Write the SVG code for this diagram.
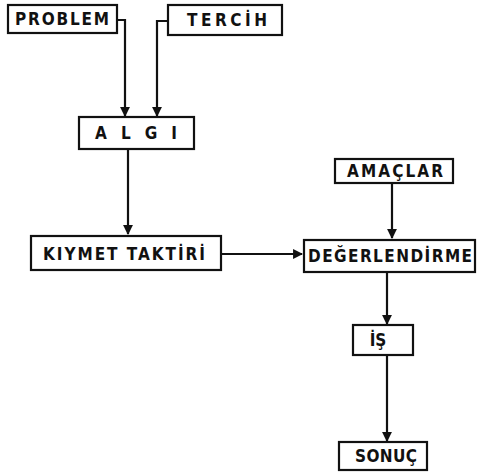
<svg xmlns="http://www.w3.org/2000/svg" width="481" height="474" viewBox="0 0 481 474">
<style>
.box{fill:#fff;stroke:#111;stroke-width:2.2}
.t{font-family:"DejaVu Sans Condensed","Liberation Sans",sans-serif;font-weight:bold;font-size:17px;fill:#111;dominant-baseline:central}
.c{fill:none;stroke:#111;stroke-width:2.2}
</style>
<defs>
<marker id="ah" viewBox="0 0 10 10" refX="9" refY="5" markerWidth="4.5" markerHeight="4.5" orient="auto" markerUnits="strokeWidth">
<path d="M0,0 L10,5 L0,10 Z" fill="#111"/>
</marker>
</defs>
<rect width="481" height="474" fill="#fff"/>
<g id="connectors">
<path class="c" d="M117,20 H125 V116" marker-end="url(#ah)"/>
<path class="c" d="M168,21 H157 V116" marker-end="url(#ah)"/>
<path class="c" d="M128,149 V234" marker-end="url(#ah)"/>
<path class="c" d="M221,254 H302" marker-end="url(#ah)"/>
<path class="c" d="M392,183 V238" marker-end="url(#ah)"/>
<path class="c" d="M387,272 V324" marker-end="url(#ah)"/>
<path class="c" d="M387,355 V441" marker-end="url(#ah)"/>
</g>
<g id="problem">
<rect class="box" x="8" y="5" width="109" height="28"/>
<text class="t" x="15" y="19" textLength="94" lengthAdjust="spacing">PROBLEM</text>
</g>
<g id="tercih">
<rect class="box" x="168" y="5" width="114" height="30"/>
<text class="t" x="187" y="20" textLength="80" lengthAdjust="spacing">TERCİH</text>
</g>
<g id="algi">
<rect class="box" x="79" y="117" width="115" height="32"/>
<text class="t" x="95" y="133" textLength="82" lengthAdjust="spacing">ALGI</text>
</g>
<g id="kiymet">
<rect class="box" x="31" y="236" width="190" height="34"/>
<text class="t" x="43" y="254" textLength="162" lengthAdjust="spacing">KIYMET TAKTİRİ</text>
</g>
<g id="amaclar">
<rect class="box" x="335" y="159" width="118" height="24"/>
<text class="t" x="347" y="171" textLength="96" lengthAdjust="spacing">AMAÇLAR</text>
</g>
<g id="degerlendirme">
<rect class="box" x="304" y="240" width="171" height="32"/>
<text class="t" x="308" y="256" textLength="164" lengthAdjust="spacing">DEĞERLENDİRME</text>
</g>
<g id="is">
<rect class="box" x="353" y="325" width="60" height="30"/>
<text class="t" x="378" y="340" text-anchor="middle">İŞ</text>
</g>
<g id="sonuc">
<rect class="box" x="339" y="442" width="88" height="28"/>
<text class="t" x="355" y="456" textLength="62" lengthAdjust="spacing">SONUÇ</text>
</g>
</svg>
